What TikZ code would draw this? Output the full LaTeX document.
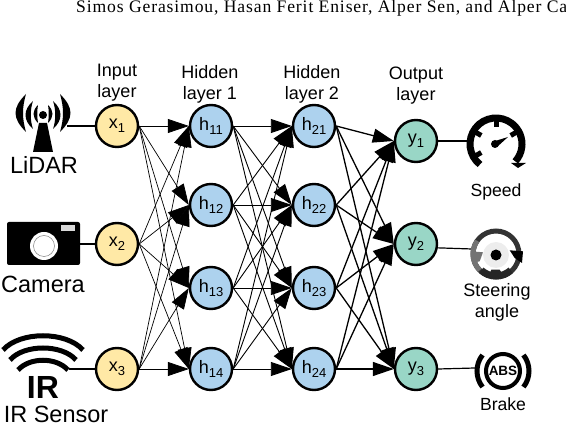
\documentclass[tikz,border=0pt]{standalone}
\usepackage{fontspec}
\setmainfont{Liberation Sans}
\newfontfamily\headfont[LetterSpace=5]{Liberation Serif}
\usetikzlibrary{arrows.meta}
\newcommand{\nsub}[2]{#1\raisebox{-0.22em}{\fontsize{13}{13}\selectfont #2}}
\tikzset{
	neuron/.style={circle, draw, line width=2.4pt, minimum size=42pt, inner sep=0pt, font=\fontsize{18}{18}\selectfont},
	inputn/.style={neuron, fill=inyellow},
	hiddenn/.style={neuron, fill=hidblue},
	outputn/.style={neuron, fill=outgreen},
	layertext/.style={align=center, inner sep=0pt, font=\fontsize{18}{21}\selectfont},
	sensortext/.style={inner sep=0pt, font=\fontsize{23.5}{23.5}\selectfont},
	edgea/.style={-{Triangle[length=21pt,width=14pt]}, line width=0.7pt},
	edgeb/.style={-{Triangle[length=21pt,width=14pt]}, line width=0.9pt},
	edgec/.style={-{Triangle[length=21pt,width=14pt]}, line width=1.3pt},
	iconline/.style={line width=1.2pt}
}
\definecolor{inyellow}{HTML}{FFE9A6}
\definecolor{hidblue}{HTML}{ADD2EE}
\definecolor{outgreen}{HTML}{99D6C6}
\begin{document}
\begin{tikzpicture}[x=1pt, y=1pt]
	\useasboundingbox (0,0) rectangle (566,426);
	\begin{scope}
		\clip (0,0) rectangle (566,426);
		\node[anchor=base west, inner sep=0pt, font=\fontsize{17.6}{17.6}\headfont] (header) at (76,413) {Simos Gerasimou, Hasan Ferit Eniser, Alper Sen, and Alper Ca};
	\end{scope}

	\node[layertext] (inputlabel) at (117,343) {Input\\layer};
	\node[layertext] (hiddenlabela) at (210,341.5) {Hidden\\layer 1};
	\node[layertext] (hiddenlabelb) at (312,341.5) {Hidden\\layer 2};
	\node[layertext] (outputlabel) at (416,340.5) {Output\\layer};

	\coordinate (lidar) at (67,300); \coordinate (camera) at (80,182); \coordinate (irsensor) at (69,57);
	\coordinate (speed) at (467,285); \coordinate (wheel) at (472,177); \coordinate (brake) at (475,58);

	\draw[iconline] (lidar) -- (117,300); \draw[iconline] (camera) -- (117,182); \draw[iconline] (irsensor) -- (117,57);

	\node[inputn] (x1) at (117,300) {\nsub{x}{1}};
	\node[inputn] (x2) at (117,182) {\nsub{x}{2}};
	\node[inputn] (x3) at (117,57) {\nsub{x}{3}};

	\node[hiddenn] (h11) at (211,300) {\nsub{h}{11}};
	\node[hiddenn] (h12) at (211,221) {\nsub{h}{12}};
	\node[hiddenn] (h13) at (211,138) {\nsub{h}{13}};
	\node[hiddenn] (h14) at (211,57) {\nsub{h}{14}};

	\node[hiddenn] (h21) at (314,300) {\nsub{h}{21}};
	\node[hiddenn] (h22) at (314,221) {\nsub{h}{22}};
	\node[hiddenn] (h23) at (314,138) {\nsub{h}{23}};
	\node[hiddenn] (h24) at (314,57) {\nsub{h}{24}};

	\node[outputn] (y1) at (416,285) {\nsub{y}{1}};
	\node[outputn] (y2) at (416,182) {\nsub{y}{2}};
	\node[outputn] (y3) at (416,57) {\nsub{y}{3}};

	\draw[edgea] (x1.east) -- (h11.west); \draw[edgea] (x1.east) -- (h12.west); \draw[edgea] (x1.east) -- (h13.west); \draw[edgea] (x1.east) -- (h14.west);
	\draw[edgea] (x2.east) -- (h11.west); \draw[edgea] (x2.east) -- (h12.west); \draw[edgea] (x2.east) -- (h13.west); \draw[edgea] (x2.east) -- (h14.west);
	\draw[edgea] (x3.east) -- (h11.west); \draw[edgea] (x3.east) -- (h12.west); \draw[edgea] (x3.east) -- (h13.west); \draw[edgea] (x3.east) -- (h14.west);

	\draw[edgeb] (h11.east) -- (h21.west); \draw[edgeb] (h11.east) -- (h22.west); \draw[edgeb] (h11.east) -- (h23.west); \draw[edgeb] (h11.east) -- (h24.west);
	\draw[edgeb] (h12.east) -- (h21.west); \draw[edgeb] (h12.east) -- (h22.west); \draw[edgeb] (h12.east) -- (h23.west); \draw[edgeb] (h12.east) -- (h24.west);
	\draw[edgeb] (h13.east) -- (h21.west); \draw[edgeb] (h13.east) -- (h22.west); \draw[edgeb] (h13.east) -- (h23.west); \draw[edgeb] (h13.east) -- (h24.west);
	\draw[edgeb] (h14.east) -- (h21.west); \draw[edgeb] (h14.east) -- (h22.west); \draw[edgeb] (h14.east) -- (h23.west); \draw[edgeb] (h14.east) -- (h24.west);

	\draw[edgec] (h21.east) -- (y1.west); \draw[edgec] (h21.east) -- (y2.west); \draw[edgec] (h21.east) -- (y3.west);
	\draw[edgec] (h22.east) -- (y1.west); \draw[edgec] (h22.east) -- (y2.west); \draw[edgec] (h22.east) -- (y3.west);
	\draw[edgec] (h23.east) -- (y1.west); \draw[edgec] (h23.east) -- (y2.west); \draw[edgec] (h23.east) -- (y3.west);
	\draw[edgec] (h24.east) -- (y1.west); \draw[edgec] (h24.east) -- (y2.west); \draw[edgec] (h24.east) -- (y3.west);

	\draw[iconline] (y1.east) -- (speed); \draw[iconline] (y2.-10) -- (wheel); \draw[iconline] (y3.east) -- (brake);

	% lidar icon
	\fill (26,332) .. controls (12,318) and (12,308) .. (26,294) .. controls (22,308) and (22,318) .. (26,332);
	\fill (33,325) .. controls (23,316) and (23,306) .. (33,297) .. controls (30,306) and (30,316) .. (33,325);
	\fill (38,321) .. controls (32,315) and (32,309) .. (38,303) .. controls (37,309) and (37,315) .. (38,321);
	\fill (60,332) .. controls (74,318) and (74,308) .. (60,294) .. controls (64,308) and (64,318) .. (60,332);
	\fill (53,325) .. controls (63,316) and (63,306) .. (53,297) .. controls (56,306) and (56,316) .. (53,325);
	\fill (48,321) .. controls (54,315) and (54,309) .. (48,303) .. controls (49,309) and (49,315) .. (48,321);
	\fill (43,311) circle (4);
	\fill (39,303) -- (47,303) -- (53,274) -- (33,274) -- cycle;
	\node[sensortext] (lidarlabel) at (44,261) {LiDAR};

	% camera icon
	\fill[rounded corners=2pt] (7,161) rectangle (80,204);
	\fill[white!85!black] (61,195) rectangle (75,201);
	\fill[white] (44,180) circle (14);
	\draw[gray, line width=0.5pt] (44,180) circle (10.5);
	\node[sensortext] (cameralabel) at (43,142) {Camera};

	% ir icon
	\draw[line width=5pt] (3,76) .. controls (20,95) and (66,95) .. (83,76);
	\draw[line width=5pt] (10,66) .. controls (24,82) and (62,82) .. (76,66);
	\draw[line width=5pt] (18,56) .. controls (30,69) and (56,69) .. (68,56);
	\node[inner sep=0pt, font=\fontsize{32}{32}\bfseries] (irmark) at (43,38.5) {IR};
	\node[sensortext] (irlabel) at (56,11.5) {IR Sensor};

	% speed icon
	\draw[line width=7pt] (496,282) ++(232:26) arc (232:-42:26);
	\fill (511,263) -- (526,263) -- (518,258) -- cycle;
	\draw[line width=5pt] (496,282) ++(90:25) -- ++(270:8);
	\draw[line width=5pt] (496,282) ++(150:25) -- ++(330:8);
	\draw[line width=5pt] (496,282) ++(30:25) -- ++(210:8);
	\draw[line width=5pt] (496,282) ++(210:25) -- ++(30:8);
	\fill (495,282) circle (4);
	\fill (492,284) -- (508,289) -- (497,279) -- cycle;
	\node[inner sep=0pt, font=\fontsize{17.6}{17.6}\selectfont] (speedlabel) at (496,234) {Speed};

	% wheel icon
	\fill[white!93!black] (496,171) circle (13);
	\draw[color=black!80, line width=5pt] (496,172) circle (23);
	\draw[color=black!55, line width=5pt] (496,172) ++(145:23) arc (145:225:23);
	\draw[color=black!85, line width=7pt] (496,172) ++(228:22) arc (228:312:22);
	\fill (509.7,175.7) -- (523,174.7) -- (522,163) -- (514.7,168) -- cycle;
	\fill[color=black!55] (471.3,174.7) -- (483,173.7) -- (479.7,164.7) -- (472.3,163) -- cycle;
	\fill[color=black!85] (491.3,156.3) -- (499.7,156.3) -- (504.7,148) -- (488,148) -- cycle;
	\fill (496,171) circle (5.5);
	\node[layertext] (wheellabel) at (497,124) {Steering\\angle};

	% brake icon
	\draw[line width=4pt] (503,55) circle (17);
	\draw[line width=5pt] (503,55) ++(142:26) arc (142:218:26);
	\draw[line width=5pt] (503,55) ++(38:26) arc (38:-38:26);
	\node[inner sep=0pt, font=\fontsize{13.5}{13.5}\bfseries] (abs) at (503,55) {ABS};
	\node[inner sep=0pt, font=\fontsize{17.6}{17.6}\selectfont] (brakelabel) at (503,22) {Brake};
\end{tikzpicture}
\end{document}
